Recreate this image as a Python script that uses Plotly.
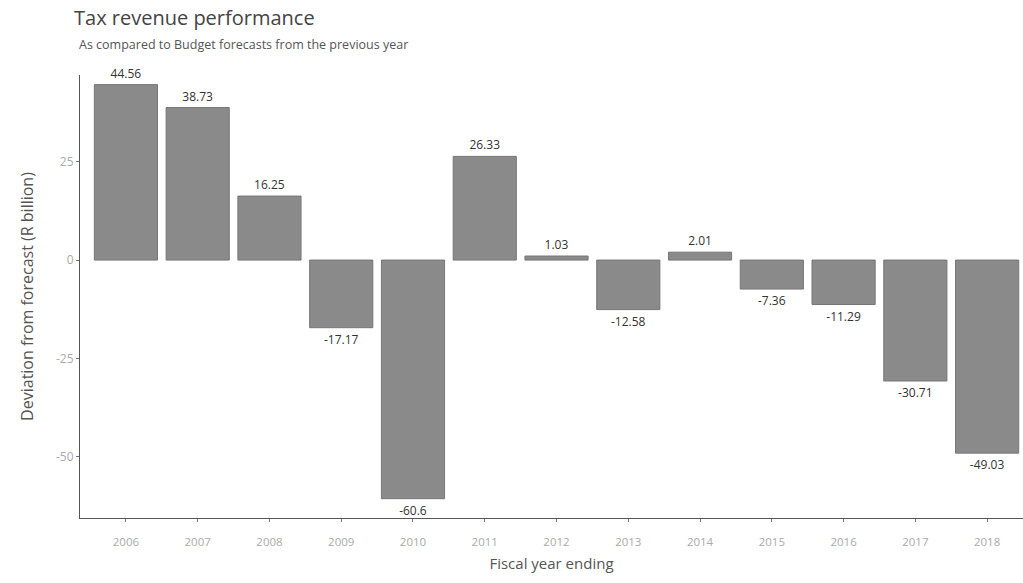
import plotly.graph_objects as go

# Fiscal years and deviation of tax revenue from the prior-year Budget forecast (R billion)
years = ["2006", "2007", "2008", "2009", "2010", "2011", "2012",
         "2013", "2014", "2015", "2016", "2017", "2018"]
deviation = [44.56, 38.73, 16.25, -17.17, -60.6, 26.33, 1.03,
             -12.58, 2.01, -7.36, -11.29, -30.71, -49.03]
y_ticks = [-50, -25, 0, 25]

FONT = "Open Sans"

fig = go.Figure(
    go.Bar(
        x=years,
        y=deviation,
        text=[f"{v:g}" for v in deviation],
        textposition="outside",
        cliponaxis=False,
        textfont=dict(family=FONT, size=12, color="#333333"),
        marker=dict(color="#8a8a8a", line=dict(color="#767676", width=1)),
        width=0.88,
    )
)

fig.update_layout(
    width=1023,
    height=583,
    margin=dict(l=80, r=0, t=75, b=65),
    paper_bgcolor="white",
    plot_bgcolor="white",
    showlegend=False,
    font=dict(family=FONT),
    annotations=[
        dict(text="Tax revenue performance", xref="paper", yref="paper",
             x=-0.008, y=1.095, xanchor="left", yanchor="bottom", showarrow=False,
             font=dict(family=FONT, size=20, color="#444444")),
        dict(text="As compared to Budget forecasts from the previous year",
             xref="paper", yref="paper", x=-0.003, y=1.045,
             xanchor="left", yanchor="bottom", showarrow=False,
             font=dict(family=FONT, size=12.5, color="#555555")),
    ],
)

fig.update_xaxes(
    type="category",
    range=[-0.64, 12.5],
    showline=True, linecolor="#555555", linewidth=1,
    ticks="outside", ticklen=3, tickcolor="#777777",
    ticklabelstandoff=10,
    tickfont=dict(family=FONT, size=11.5, color="#aaaaaa"),
    title=dict(text="Fiscal year ending", standoff=10,
               font=dict(family=FONT, size=15, color="#555555")),
    showgrid=False,
)

fig.update_yaxes(
    range=[-65.5, 47],
    tickvals=y_ticks,
    ticktext=[f"{t:g}" for t in y_ticks],
    showline=True, linecolor="#555555", linewidth=1,
    ticks="outside", ticklen=3, tickcolor="#777777",
    tickfont=dict(family=FONT, size=12, color="#aaaaaa"),
    title=dict(text="Deviation from forecast (R billion)", standoff=18,
               font=dict(family=FONT, size=16, color="#555555")),
    showgrid=False,
    zeroline=False,
)

fig.write_html("out.html")
